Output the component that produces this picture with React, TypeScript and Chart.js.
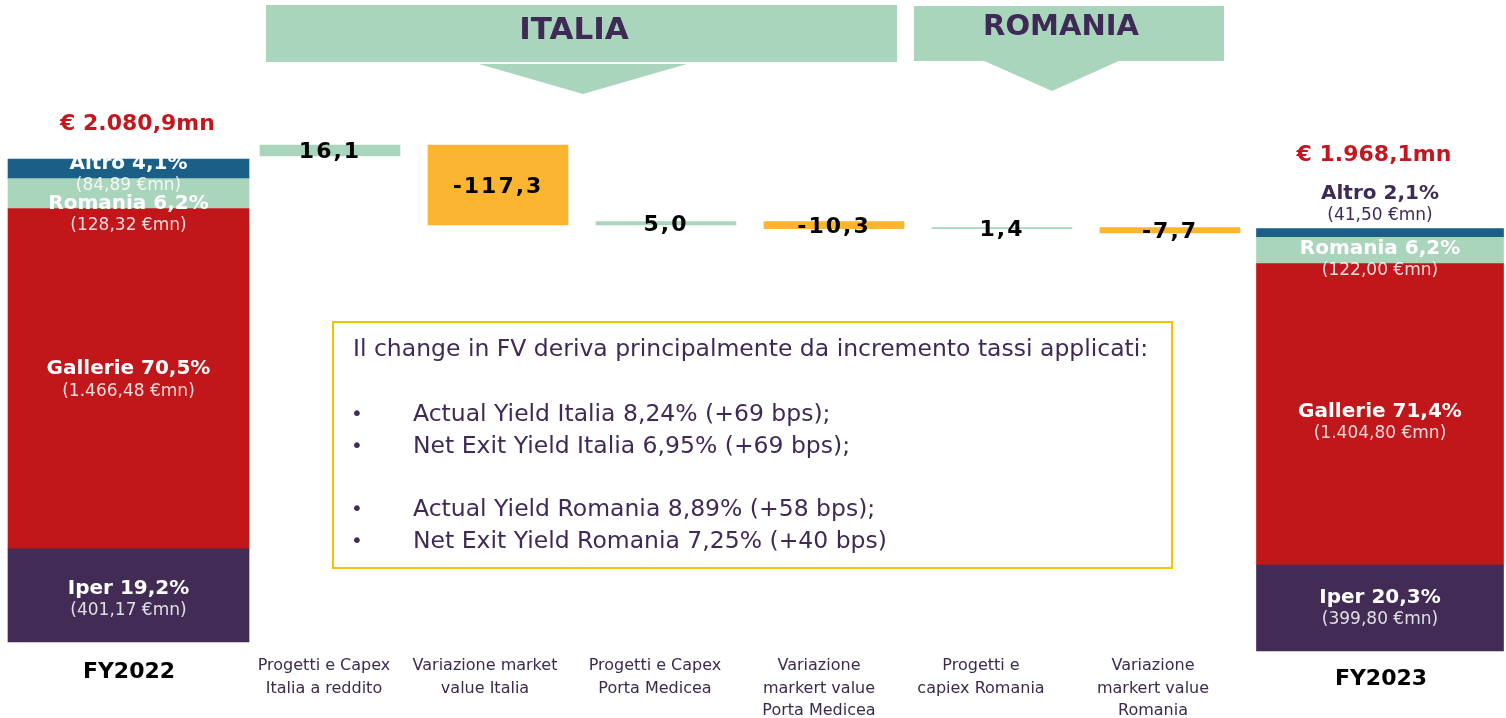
import React, { useEffect, useRef } from 'react';
import { Chart, registerables } from 'chart.js';

Chart.register(...registerables);

// ---------------- data ----------------
const segmentNames = ['Iper', 'Gallerie', 'Romania', 'Altro'];
const fy2022Values = [401.17, 1466.48, 128.32, 84.89];
const fy2023Values = [399.8, 1404.8, 122.0, 41.5];
const fy2022Shares = ['19,2%', '70,5%', '6,2%', '4,1%'];
const fy2023Shares = ['20,3%', '71,4%', '6,2%', '2,1%'];
const periodLabels = ['FY2022', 'FY2023'];
const bridgeLabels = [
  ['Progetti e Capex', 'Italia a reddito'],
  ['Variazione market', 'value Italia'],
  ['Progetti e Capex', 'Porta Medicea'],
  ['Variazione', 'markert value', 'Porta Medicea'],
  ['Progetti e', 'capiex Romania'],
  ['Variazione', 'markert value', 'Romania'],
];
const bridgeValues = [16.1, -117.3, 5.0, -10.3, 1.4, -7.7];
const regionNames = ['ITALIA', 'ROMANIA'];
const noteTitle = 'Il change in FV deriva principalmente da incremento tassi applicati:';
const noteItalia = ['Actual Yield Italia 8,24% (+69 bps);', 'Net Exit Yield Italia 6,95% (+69 bps);'];
const noteRomania = ['Actual Yield Romania 8,89% (+58 bps);', 'Net Exit Yield Romania 7,25% (+40 bps)'];

// ---------------- styles / layout ----------------
const W = 1506;
const H = 718;
const FONT = '"DejaVu Sans", Verdana, sans-serif';
const PURPLE = '#3f2a56';
const segColors = ['#422c55', '#c1171b', '#a9d5bc', '#1b5e86'];
const UP = '#a9d5bc';
const DOWN = '#fbb531';
const RED_TXT = '#c5161d';

const fmtIt = (v: number, dec: number) => {
  const neg = v < 0;
  const s = Math.abs(v).toFixed(dec);
  const [i, f] = s.split('.');
  const g = i.replace(/\B(?=(\d{3})+(?!\d))/g, '.');
  return (neg ? '-' : '') + g + (f ? ',' + f : '');
};

const sum = (a: number[]) => a.reduce((s, v) => s + v, 0);
const total22 = sum(fy2022Values);
const total23 = sum(fy2023Values);

let lvl = total22;
const bridgeBars = bridgeValues.map((d) => {
  const s = lvl;
  lvl += d;
  return [s, lvl];
});

// axis ranges so that each block sits where the slide draws it
const rangeFromAnchors = (vTop: number, pTop: number, vBot: number, pBot: number) => {
  const u = (vTop - vBot) / (pBot - pTop);
  const max = vTop + pTop * u;
  return { min: max - H * u, max };
};
const rangeFromScale = (v: number, p: number, pxPerUnit: number) => {
  const u = 1 / pxPerUnit;
  const max = v + p * u;
  return { min: max - H * u, max };
};
const yLRange = rangeFromAnchors(total22, 159, 0, 642);
const yRRange = rangeFromAnchors(total23, 228.5, 0, 651);
const yMRange = rangeFromScale(total22, 156, 0.682);

const SEG22_OFFSETS = [4.5, 1.5, 21, 6];
const SEG23_OFFSETS = [0.5, 8, 9.5, -28.5];
const CAT_OFFSETS = [-6, -13, -11, -15, -21, -17];

function txt(
  ctx: CanvasRenderingContext2D,
  t: string,
  x: number,
  y: number,
  font: string,
  color: string,
  align: CanvasTextAlign = 'center',
  spacing = '0px'
) {
  ctx.save();
  ctx.font = font;
  ctx.fillStyle = color;
  ctx.textAlign = align;
  ctx.textBaseline = 'middle';
  (ctx as any).letterSpacing = spacing;
  ctx.fillText(t, x, y);
  ctx.restore();
}

const decorPlugin = {
  id: 'decor',
  beforeDatasetsDraw(chart: any) {
    const ctx: CanvasRenderingContext2D = chart.ctx;
    ctx.save();
    ctx.fillStyle = UP;
    // ITALIA banner
    ctx.fillRect(266, 5, 631, 57);
    ctx.beginPath();
    ctx.moveTo(479, 64);
    ctx.lineTo(687, 64);
    ctx.lineTo(583, 94);
    ctx.closePath();
    ctx.fill();
    // ROMANIA banner
    ctx.fillRect(914, 6, 310, 55);
    ctx.beginPath();
    ctx.moveTo(982, 60);
    ctx.lineTo(1121, 60);
    ctx.lineTo(1052, 91);
    ctx.closePath();
    ctx.fill();
    // note box
    ctx.strokeStyle = '#f6c200';
    ctx.lineWidth = 2;
    ctx.strokeRect(333, 322, 839, 246);
    ctx.restore();

    txt(ctx, regionNames[0], 574, 31, `bold 31px ${FONT}`, PURPLE);
    txt(ctx, regionNames[1], 1061, 27, `bold 29px ${FONT}`, PURPLE);

    const nf = `23.5px ${FONT}`;
    txt(ctx, noteTitle, 353, 350, nf, PURPLE, 'left');
    const items = [...noteItalia.map((t, i) => [t, 415 + i * 32]), ...noteRomania.map((t, i) => [t, 510 + i * 32])];
    items.forEach(([t, y]) => {
      txt(ctx, '•', 357, y as number, `20px ${FONT}`, PURPLE, 'center');
      txt(ctx, t as string, 413, y as number, nf, PURPLE, 'left');
    });
  },
  afterDatasetsDraw(chart: any) {
    const ctx: CanvasRenderingContext2D = chart.ctx;
    const mainF = `bold 20px ${FONT}`;
    const subF = `17px ${FONT}`;
    const nSeg = segmentNames.length;

    // stacked blocks
    const drawBlock = (dsOffset: number, values: number[], shares: string[], offs: number[], onTop: boolean) => {
      values.forEach((v, i) => {
        const el = chart.getDatasetMeta(dsOffset + i).data[0];
        const cy = (el.y + el.base) / 2 + offs[i];
        const outside = onTop && i === values.length - 1;
        const c1 = outside ? PURPLE : '#ffffff';
        const c2 = outside ? PURPLE : 'rgba(255,255,255,0.84)';
        txt(ctx, `${segmentNames[i]} ${shares[i]}`, el.x, cy - 11, mainF, c1);
        txt(ctx, `(${fmtIt(v, 2)} €mn)`, el.x, cy + 11, subF, c2);
      });
    };
    drawBlock(0, fy2022Values, fy2022Shares, SEG22_OFFSETS, false);
    drawBlock(nSeg + 1, fy2023Values, fy2023Shares, SEG23_OFFSETS, true);

    // totals
    const top22 = chart.getDatasetMeta(nSeg - 1).data[0];
    const top23 = chart.getDatasetMeta(2 * nSeg).data[0];
    txt(ctx, `€ ${fmtIt(total22, 1)}mn`, top22.x + 9, top22.y - 35, `bold 22px ${FONT}`, RED_TXT);
    txt(ctx, `€ ${fmtIt(total23, 1)}mn`, top23.x - 6, top23.y - 73, `bold 22px ${FONT}`, RED_TXT);

    // bridge values
    const bm = chart.getDatasetMeta(nSeg);
    bm.data.forEach((el: any, i: number) => {
      const cy = (el.y + el.base) / 2 + 2;
      txt(ctx, fmtIt(bridgeValues[i], 1), el.x, cy, `bold 22px ${FONT}`, '#000000', 'center', '2px');
    });

    // category labels
    const xM = chart.scales.xM;
    bridgeLabels.forEach((lines, i) => {
      const x = xM.getPixelForValue(i) + CAT_OFFSETS[i];
      lines.forEach((l, k) => txt(ctx, l, x, 666 + k * 22.5, `16px ${FONT}`, '#3b2a4e'));
    });
    txt(ctx, periodLabels[0], chart.scales.xL.getPixelForValue(0) + 0.5, 672, `bold 22px ${FONT}`, '#000000');
    txt(ctx, periodLabels[1], chart.scales.xR.getPixelForValue(0) + 1, 679, `bold 22px ${FONT}`, '#000000');
  },
};

export default function App() {
  const ref = useRef<HTMLCanvasElement | null>(null);
  useEffect(() => {
    if (!ref.current) return;
    const datasets: any[] = [
      ...segmentNames.map((n, i) => ({
        label: `${n} ${periodLabels[0]}`,
        data: [fy2022Values[i]],
        backgroundColor: segColors[i],
        xAxisID: 'xL',
        yAxisID: 'yL',
        stack: 'fy22',
        grouped: false,
        clip: false,
        barThickness: 241,
      })),
      {
        label: 'bridge',
        data: bridgeBars,
        backgroundColor: bridgeValues.map((v) => (v >= 0 ? UP : DOWN)),
        xAxisID: 'xM',
        yAxisID: 'yM',
        grouped: false,
        clip: false,
        barThickness: 140,
      },
      ...segmentNames.map((n, i) => ({
        label: `${n} ${periodLabels[1]}`,
        data: [fy2023Values[i]],
        backgroundColor: segColors[i],
        xAxisID: 'xR',
        yAxisID: 'yR',
        stack: 'fy23',
        grouped: false,
        clip: false,
        barThickness: 247,
      })),
    ];
    const hiddenCat = (labels: string[], w: number, weight: number) => ({
      type: 'category',
      labels,
      position: 'bottom',
      stack: 'bottomRow',
      stackWeight: w,
      weight,
      display: false,
      offset: true,
      stacked: true,
    });
    const chart = new Chart(ref.current, {
      type: 'bar',
      data: { datasets },
      plugins: [decorPlugin],
      options: {
        animation: false,
        responsive: false,
        maintainAspectRatio: false,
        layout: { padding: { left: 11, right: 0, top: 0, bottom: 0 } },
        plugins: { legend: { display: false }, tooltip: { enabled: false } },
        scales: {
          xL: hiddenCat([periodLabels[0]], 235, 0),
          xM: hiddenCat(bridgeLabels.map((l) => l.join(' ')), 1008, 1),
          xR: hiddenCat([periodLabels[1]], 252, 2),
          yL: { type: 'linear', display: false, stacked: true, min: yLRange.min, max: yLRange.max },
          yM: { type: 'linear', display: false, min: yMRange.min, max: yMRange.max },
          yR: { type: 'linear', display: false, stacked: true, min: yRRange.min, max: yRRange.max },
        },
      } as any,
    });
    return () => chart.destroy();
  }, []);
  return (
    <div style={{ position: 'absolute', left: 0, top: 0, width: W, height: H, background: '#ffffff' }}>
      <canvas ref={ref} width={W} height={H} style={{ display: 'block' }} />
    </div>
  );
}
